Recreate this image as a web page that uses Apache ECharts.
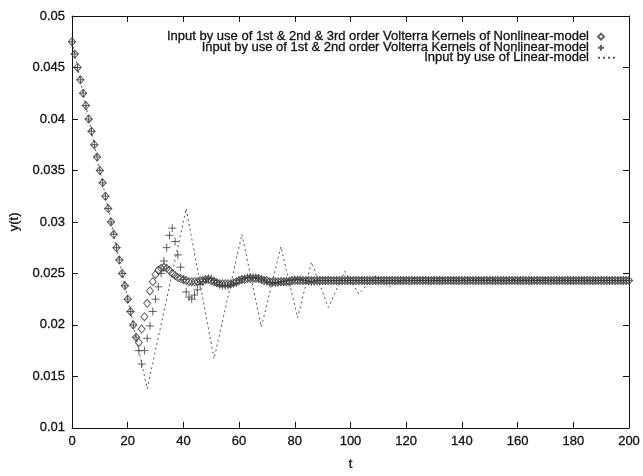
<!DOCTYPE html>
<html>
<head>
<meta charset="utf-8">
<script src="https://cdn.jsdelivr.net/npm/echarts@6/dist/echarts.min.js"></script>
<style>
  html, body { margin: 0; padding: 0; background: #fff; }
  #chart { width: 643px; height: 476px; }
</style>
</head>
<body>
<div id="chart"></div>
<script>
// Response y(t) for t = 0..200, one value per time step.
const nameKernel3 = 'Input by use of 1st & 2nd & 3rd order Volterra Kernels of Nonlinear-model';
const nameKernel2 = 'Input by use of 1st & 2nd order Volterra Kernels of Nonlinear-model';
const nameLinear = 'Input by use of Linear-model';

const kernel3Values = [
  0.0475, 0.0463, 0.0450, 0.0438, 0.0425, 0.0413, 0.0400, 0.0388, 0.0375, 0.0363, // t 0-9
  0.0350, 0.0338, 0.0325, 0.0313, 0.0300, 0.0288, 0.0275, 0.0263, 0.0250, 0.0238, // t 10-19
  0.0225, 0.0213, 0.0200, 0.0188, 0.0183, 0.0196, 0.0208, 0.0221, 0.0233, 0.0242, // t 20-29
  0.0249, 0.0253, 0.0255, 0.0256, 0.0255, 0.0253, 0.0250, 0.0248, 0.0246, 0.0245, // t 30-39
  0.0244, 0.0243, 0.0242, 0.0242, 0.0242, 0.0242, 0.0243, 0.0243, 0.0244, 0.0244, // t 40-49
  0.0243, 0.0242, 0.0241, 0.0240, 0.0240, 0.0240, 0.0240, 0.0240, 0.0241, 0.0242, // t 50-59
  0.0243, 0.0244, 0.0244, 0.0245, 0.0245, 0.0245, 0.0245, 0.0245, 0.0244, 0.0243, // t 60-69
  0.0243, 0.0242, 0.0242, 0.0242, 0.0242, 0.0242, 0.0242, 0.0242, 0.0242, 0.0243, // t 70-79
  0.0243, 0.0243, 0.0243, 0.0243, 0.0243, 0.0243, 0.0243, 0.0243, 0.0243, 0.0243, // t 80-89
  0.0243, 0.0243, 0.0243, 0.0243, 0.0243, 0.0243, 0.0243, 0.0243, 0.0243, 0.0243, // t 90-99
  0.0243, 0.0243, 0.0243, 0.0243, 0.0243, 0.0243, 0.0243, 0.0243, 0.0243, 0.0243, // t 100-109
  0.0243, 0.0243, 0.0243, 0.0243, 0.0243, 0.0243, 0.0243, 0.0243, 0.0243, 0.0243, // t 110-119
  0.0243, 0.0243, 0.0243, 0.0243, 0.0243, 0.0243, 0.0243, 0.0243, 0.0243, 0.0243, // t 120-129
  0.0243, 0.0243, 0.0243, 0.0243, 0.0243, 0.0243, 0.0243, 0.0243, 0.0243, 0.0243, // t 130-139
  0.0243, 0.0243, 0.0243, 0.0243, 0.0243, 0.0243, 0.0243, 0.0243, 0.0243, 0.0243, // t 140-149
  0.0243, 0.0243, 0.0243, 0.0243, 0.0243, 0.0243, 0.0243, 0.0243, 0.0243, 0.0243, // t 150-159
  0.0243, 0.0243, 0.0243, 0.0243, 0.0243, 0.0243, 0.0243, 0.0243, 0.0243, 0.0243, // t 160-169
  0.0243, 0.0243, 0.0243, 0.0243, 0.0243, 0.0243, 0.0243, 0.0243, 0.0243, 0.0243, // t 170-179
  0.0243, 0.0243, 0.0243, 0.0243, 0.0243, 0.0243, 0.0243, 0.0243, 0.0243, 0.0243, // t 180-189
  0.0243, 0.0243, 0.0243, 0.0243, 0.0243, 0.0243, 0.0243, 0.0243, 0.0243, 0.0243, // t 190-199
  0.0243                                                                          // t 200
];

const kernel2Values = [
  0.0475, 0.0463, 0.0450, 0.0438, 0.0425, 0.0413, 0.0400, 0.0388, 0.0375, 0.0363, // t 0-9
  0.0350, 0.0338, 0.0325, 0.0313, 0.0300, 0.0288, 0.0275, 0.0263, 0.0250, 0.0238, // t 10-19
  0.0225, 0.0213, 0.0200, 0.0188, 0.0175, 0.0162, 0.0175, 0.0187, 0.0199, 0.0213, // t 20-29
  0.0225, 0.0237, 0.0250, 0.0262, 0.0275, 0.0287, 0.0294, 0.0281, 0.0268, 0.0256, // t 30-39
  0.0244, 0.0232, 0.0227, 0.0225, 0.0229, 0.0234, 0.0239, 0.0242, 0.0244, 0.0245, // t 40-49
  0.0245, 0.0243, 0.0241, 0.0239, 0.0238, 0.0238, 0.0238, 0.0239, 0.0240, 0.0241, // t 50-59
  0.0243, 0.0244, 0.0245, 0.0246, 0.0246, 0.0246, 0.0246, 0.0245, 0.0244, 0.0243, // t 60-69
  0.0242, 0.0241, 0.0241, 0.0241, 0.0241, 0.0242, 0.0242, 0.0243, 0.0243, 0.0243, // t 70-79
  0.0244, 0.0244, 0.0244, 0.0243, 0.0243, 0.0242, 0.0242, 0.0242, 0.0243, 0.0243, // t 80-89
  0.0243, 0.0243, 0.0243, 0.0243, 0.0243, 0.0243, 0.0243, 0.0243, 0.0243, 0.0243, // t 90-99
  0.0243, 0.0243, 0.0243, 0.0243, 0.0243, 0.0243, 0.0243, 0.0243, 0.0243, 0.0243, // t 100-109
  0.0243, 0.0243, 0.0243, 0.0243, 0.0243, 0.0243, 0.0243, 0.0243, 0.0243, 0.0243, // t 110-119
  0.0243, 0.0243, 0.0243, 0.0243, 0.0243, 0.0243, 0.0243, 0.0243, 0.0243, 0.0243, // t 120-129
  0.0243, 0.0243, 0.0243, 0.0243, 0.0243, 0.0243, 0.0243, 0.0243, 0.0243, 0.0243, // t 130-139
  0.0243, 0.0243, 0.0243, 0.0243, 0.0243, 0.0243, 0.0243, 0.0243, 0.0243, 0.0243, // t 140-149
  0.0243, 0.0243, 0.0243, 0.0243, 0.0243, 0.0243, 0.0243, 0.0243, 0.0243, 0.0243, // t 150-159
  0.0243, 0.0243, 0.0243, 0.0243, 0.0243, 0.0243, 0.0243, 0.0243, 0.0243, 0.0243, // t 160-169
  0.0243, 0.0243, 0.0243, 0.0243, 0.0243, 0.0243, 0.0243, 0.0243, 0.0243, 0.0243, // t 170-179
  0.0243, 0.0243, 0.0243, 0.0243, 0.0243, 0.0243, 0.0243, 0.0243, 0.0243, 0.0243, // t 180-189
  0.0243, 0.0243, 0.0243, 0.0243, 0.0243, 0.0243, 0.0243, 0.0243, 0.0243, 0.0243, // t 190-199
  0.0243                                                                          // t 200
];

// Linear-model response: turning points of the oscillation (t, y).
const linearT = [0, 27, 41, 51, 61, 68, 75, 81, 86, 92, 98, 103, 109, 114, 120, 200];
const linearY = [0.0475, 0.0138, 0.0313, 0.0167, 0.0288, 0.0198, 0.0276, 0.0207,
                 0.0261, 0.0217, 0.0252, 0.0230, 0.0248, 0.0237, 0.0245, 0.0243];

const xTicks = { min: 0, max: 200, interval: 20 };
const yTicks = { min: 0.01, max: 0.05, interval: 0.005 };

const FONT = "'Liberation Sans', Arial, Helvetica, sans-serif";
const INK = '#111';
const MARK = '#3a3a3a';

// Slightly heavier text stroke, like the plotted labels
const textInk = { fontFamily: FONT, fontSize: 13, color: INK, textBorderColor: INK, textBorderWidth: 0.3 };

const chart = echarts.init(document.getElementById('chart'), null, { renderer: 'canvas' });

const boxAxis = {
  axisLine: { show: true, onZero: false, lineStyle: { color: INK, width: 1 } },
  axisTick: { show: true, inside: true, length: 6, lineStyle: { color: INK, width: 1 } },
  splitLine: { show: false }
};

function legendRow(item, top, right, w, h) {
  return {
    data: [item], top: top, right: right, align: 'right', orient: 'horizontal',
    itemWidth: w, itemHeight: h, padding: 0, selectedMode: false,
    textStyle: Object.assign({}, textInk, { padding: [0, 4, 0, 0] })
  };
}

chart.setOption({
  animation: false,
  backgroundColor: '#fff',
  textStyle: { fontFamily: FONT },
  grid: { left: 72, right: 12, top: 16, bottom: 39, containLabel: false },
  legend: [
    legendRow(nameKernel3, 30, 38, 6, 6),
    legendRow(nameKernel2, 41, 38, 6, 6),
    legendRow({
      name: nameLinear,
      itemStyle: { color: 'rgba(0,0,0,0)', borderColor: 'rgba(0,0,0,0)', borderWidth: 0 }
    }, 51, 26, 18, 6)
  ],
  xAxis: [
    Object.assign({}, boxAxis, {
      type: 'value', position: 'bottom', min: xTicks.min, max: xTicks.max, interval: xTicks.interval,
      name: 't', nameLocation: 'middle', nameGap: 30,
      nameTextStyle: textInk,
      axisLabel: Object.assign({}, textInk, { margin: 7 })
    }),
    Object.assign({}, boxAxis, {
      type: 'value', position: 'top', min: xTicks.min, max: xTicks.max, interval: xTicks.interval,
      axisLabel: { show: false }
    })
  ],
  yAxis: [
    Object.assign({}, boxAxis, {
      type: 'value', position: 'left', min: yTicks.min, max: yTicks.max, interval: yTicks.interval,
      name: 'y(t)', nameLocation: 'middle', nameGap: 36, nameRotate: 90,
      nameTextStyle: textInk,
      axisLabel: Object.assign({}, textInk, {
        margin: 7,
        formatter: v => String(parseFloat(v.toFixed(3)))
      })
    }),
    Object.assign({}, boxAxis, {
      type: 'value', position: 'right', min: yTicks.min, max: yTicks.max, interval: yTicks.interval,
      axisLabel: { show: false }
    })
  ],
  series: [
    {
      name: nameKernel3,
      type: 'scatter',
      data: kernel3Values.map((v, t) => [t, v]),
      symbol: 'diamond',
      symbolSize: [7, 8],
      itemStyle: { color: 'rgba(255,255,255,0)', borderColor: MARK, borderWidth: 1 },
      z: 3
    },
    {
      name: nameKernel2,
      type: 'scatter',
      data: kernel2Values.map((v, t) => [t, v]),
      symbol: 'path://M0,4L8,4M4,0L4,8',
      symbolSize: 8,
      itemStyle: { color: 'rgba(255,255,255,0)', borderColor: MARK, borderWidth: 1 },
      z: 3
    },
    {
      name: nameLinear,
      type: 'line',
      data: linearT.map((t, i) => [t, linearY[i]]),
      symbol: 'none',
      showSymbol: false,
      lineStyle: { color: '#555', width: 1, type: [2, 3] },
      itemStyle: { color: '#555' },
      z: 2
    }
  ]
});
</script>
</body>
</html>
